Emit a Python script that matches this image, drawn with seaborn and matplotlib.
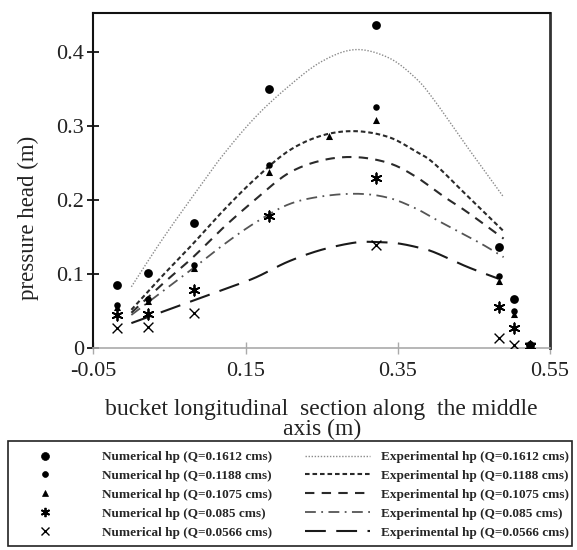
import numpy as np
import pandas as pd
import seaborn as sns
import matplotlib
matplotlib.use("Agg")
import matplotlib.pyplot as plt
from matplotlib.lines import Line2D
from matplotlib.patches import Rectangle

# ---------------- data ----------------
flows = ["0.1612", "0.1188", "0.1075", "0.085", "0.0566"]

# numerical hp (markers)
num_x_1 = [-0.019, 0.0215, 0.082, 0.181, 0.321, 0.483, 0.502, 0.524]
num_y_1 = [0.085, 0.101, 0.169, 0.350, 0.436, 0.137, 0.067, 0.005]
num_x_2 = [-0.019, 0.0215, 0.082, 0.181, 0.321, 0.483, 0.502, 0.524]
num_y_2 = [0.058, 0.066, 0.112, 0.247, 0.326, 0.098, 0.050, 0.004]
num_x_3 = [-0.019, 0.0215, 0.082, 0.181, 0.260, 0.321, 0.483, 0.502, 0.524]
num_y_3 = [0.056, 0.064, 0.108, 0.238, 0.286, 0.308, 0.091, 0.046, 0.003]
num_x_4 = [-0.019, 0.0215, 0.082, 0.181, 0.321, 0.483, 0.502, 0.524]
num_y_4 = [0.045, 0.046, 0.079, 0.178, 0.230, 0.056, 0.028, 0.003]
num_x_5 = [-0.019, 0.0215, 0.082, 0.321, 0.483, 0.502, 0.524]
num_y_5 = [0.027, 0.029, 0.048, 0.140, 0.014, 0.005, 0.002]

# experimental hp (smoothed lines)
exp_x_1 = [0.0, 0.04, 0.082, 0.119, 0.162, 0.206, 0.25, 0.294, 0.338, 0.373, 0.397, 0.441, 0.489]
exp_y_1 = [0.083, 0.146, 0.207, 0.259, 0.311, 0.353, 0.387, 0.403, 0.392, 0.365, 0.336, 0.272, 0.204]
exp_x_2 = [0.0, 0.04, 0.08, 0.12, 0.162, 0.206, 0.25, 0.294, 0.338, 0.373, 0.397, 0.441, 0.489]
exp_y_2 = [0.052, 0.097, 0.140, 0.185, 0.228, 0.266, 0.287, 0.293, 0.285, 0.266, 0.250, 0.206, 0.158]
exp_x_3 = [0.0, 0.04, 0.08, 0.12, 0.162, 0.206, 0.25, 0.294, 0.338, 0.373, 0.41, 0.441, 0.489]
exp_y_3 = [0.048, 0.086, 0.122, 0.162, 0.200, 0.236, 0.2535, 0.258, 0.250, 0.232, 0.205, 0.184, 0.148]
exp_x_4 = [0.0, 0.04, 0.08, 0.12, 0.162, 0.206, 0.25, 0.298, 0.338, 0.373, 0.405, 0.458, 0.489]
exp_y_4 = [0.045, 0.076, 0.107, 0.139, 0.169, 0.194, 0.205, 0.2085, 0.203, 0.189, 0.171, 0.142, 0.123]
exp_x_5 = [0.0, 0.04, 0.08, 0.12, 0.162, 0.206, 0.25, 0.294, 0.32, 0.347, 0.373, 0.397, 0.441, 0.482]
exp_y_5 = [0.034, 0.049, 0.064, 0.079, 0.095, 0.117, 0.133, 0.1427, 0.1435, 0.142, 0.137, 0.130, 0.110, 0.094]

x_ticks = [-0.05, 0.15, 0.35, 0.55]
x_tick_labels = ["-0.05", "0.15", "0.35", "0.55"]
y_ticks = [0, 0.1, 0.2, 0.3, 0.4]
y_tick_labels = ["0", "0.1", "0.2", "0.3", "0.4"]

num_labels = [f"Numerical hp (Q={q} cms)" for q in flows]
exp_labels = [f"Experimental hp (Q={q} cms)" for q in flows]

# --------------- style ---------------
sns.set_theme(style="white")
plt.rcParams["font.family"] = ["Liberation Serif", "DejaVu Serif"]


def smooth(x, y, n=20):
    """Catmull-Rom spline for drawing (Excel-style smoothed line)."""
    x = np.asarray(x, float)
    y = np.asarray(y, float)
    P = np.column_stack([x, y])
    P = np.vstack([2 * P[0] - P[1], P, 2 * P[-1] - P[-2]])
    out = []
    t = np.linspace(0, 1, n, endpoint=False)
    for i in range(1, len(P) - 2):
        p0, p1, p2, p3 = P[i - 1], P[i], P[i + 1], P[i + 2]
        tt = t[:, None]
        seg = 0.5 * ((2 * p1) + (-p0 + p2) * tt + (2 * p0 - 5 * p1 + 4 * p2 - p3) * tt ** 2
                     + (-p0 + 3 * p1 - 3 * p2 + p3) * tt ** 3)
        out.append(seg)
    out.append(P[-2][None, :])
    out = np.vstack(out)
    return out[:, 0], out[:, 1]


fig = plt.figure(figsize=(5.77, 5.5), dpi=100)
ax = fig.add_axes([0.1617, 0.3667, 0.7916, 0.6091])

exp_sets = [(exp_x_1, exp_y_1), (exp_x_2, exp_y_2), (exp_x_3, exp_y_3),
            (exp_x_4, exp_y_4), (exp_x_5, exp_y_5)]
line_styles = [
    dict(color="#8a8a8a", lw=1.0, ls=(0, (1, 1.2))),
    dict(color="#2a2a2a", lw=1.5, ls=(0, (2.2, 1.4))),
    dict(color="#2a2a2a", lw=1.5, ls=(0, (4.5, 3.5))),
    dict(color="#555555", lw=1.3, ls=(0, (6, 3, 1, 3))),
    dict(color="#1a1a1a", lw=1.5, ls=(0, (10, 5))),
]
for (ex, ey), st in zip(exp_sets, line_styles):
    sx, sy = smooth(ex, ey)
    df = pd.DataFrame({"x": sx, "y": sy})
    sns.lineplot(data=df, x="x", y="y", ax=ax, sort=False, estimator=None,
                 color=st["color"], linewidth=st["lw"], linestyle=st["ls"])

num_sets = [(num_x_1, num_y_1), (num_x_2, num_y_2), (num_x_3, num_y_3),
            (num_x_4, num_y_4), (num_x_5, num_y_5)]
marker_styles = [
    dict(marker="o", s=40, lw=0),
    dict(marker="o", s=22, lw=0),
    dict(marker="^", s=26, lw=0),
    dict(marker=(6, 2, 0), s=55, lw=1.3),
    dict(marker="x", s=50, lw=1.0),
]
for (nx, ny), st in zip(num_sets, marker_styles):
    df = pd.DataFrame({"x": nx, "y": ny})
    sns.scatterplot(data=df, x="x", y="y", ax=ax, marker=st["marker"], s=st["s"],
                    color="black", edgecolor="black", linewidth=st["lw"], zorder=5)

ax.set_xlim(-0.05, 0.55)
ax.set_ylim(0, 0.452)
ax.set_xticks(x_ticks)
ax.set_xticklabels(x_tick_labels)
ax.set_yticks(y_ticks)
ax.set_yticklabels(y_tick_labels)
ax.tick_params(axis="y", direction="inout", length=9, width=1.2, color="black",
               labelsize=16, labelcolor="#222222", pad=2, left=True)
ax.tick_params(axis="x", direction="inout", length=9, width=1.0, color="#aaaaaa",
               labelsize=16, labelcolor="#222222", pad=5, bottom=True)

for side in ["top", "left"]:
    ax.spines[side].set_color("#111111")
    ax.spines[side].set_linewidth(1.5)
ax.spines["right"].set_color("#333333")
ax.spines["right"].set_linewidth(2.0)
ax.spines["bottom"].set_color("#aaaaaa")
ax.spines["bottom"].set_linewidth(1.2)

ax.set_xlabel("bucket longitudinal  section along  the middle\naxis (m)",
              fontsize=17, color="#222222", labelpad=13, linespacing=0.98)
ax.set_ylabel("pressure head (m)", fontsize=16.5, color="#222222")
ax.yaxis.set_label_coords(-0.118, 0.39)

# --------------- legend ---------------
fig.patches.append(Rectangle((8 / 577, 1 - 546 / 550), 564 / 577, 105 / 550,
                             transform=fig.transFigure, fill=False,
                             edgecolor="#222222", linewidth=1.2))

num_handles = [Line2D([], [], linestyle="none", marker=st["marker"], color="black",
                      markersize=np.sqrt(st["s"]) * 0.9, markeredgewidth=st["lw"] or 0.5)
               for st in marker_styles]
exp_handles = [Line2D([], [], color=st["color"], linewidth=st["lw"], linestyle=st["ls"])
               for st in line_styles]

leg_size = 9.5
leg_font = dict(family=["Liberation Serif"], weight="bold", size=leg_size)
fs_px = leg_size * 100 / 72
leg1 = fig.legend(num_handles, num_labels, loc="upper left",
                  bbox_to_anchor=(25 / 577, 1 - 451 / 550), frameon=False,
                  prop=leg_font, borderpad=0, borderaxespad=0,
                  handlelength=40 / fs_px, handletextpad=37 / fs_px,
                  labelspacing=0.5, handleheight=0.7)
leg2 = fig.legend(exp_handles, exp_labels, loc="upper left",
                  bbox_to_anchor=(305 / 577, 1 - 451 / 550), frameon=False,
                  prop=leg_font, borderpad=0, borderaxespad=0,
                  handlelength=65 / fs_px, handletextpad=11 / fs_px,
                  labelspacing=0.5, handleheight=0.7)

fig.savefig("out.png", dpi=100)
